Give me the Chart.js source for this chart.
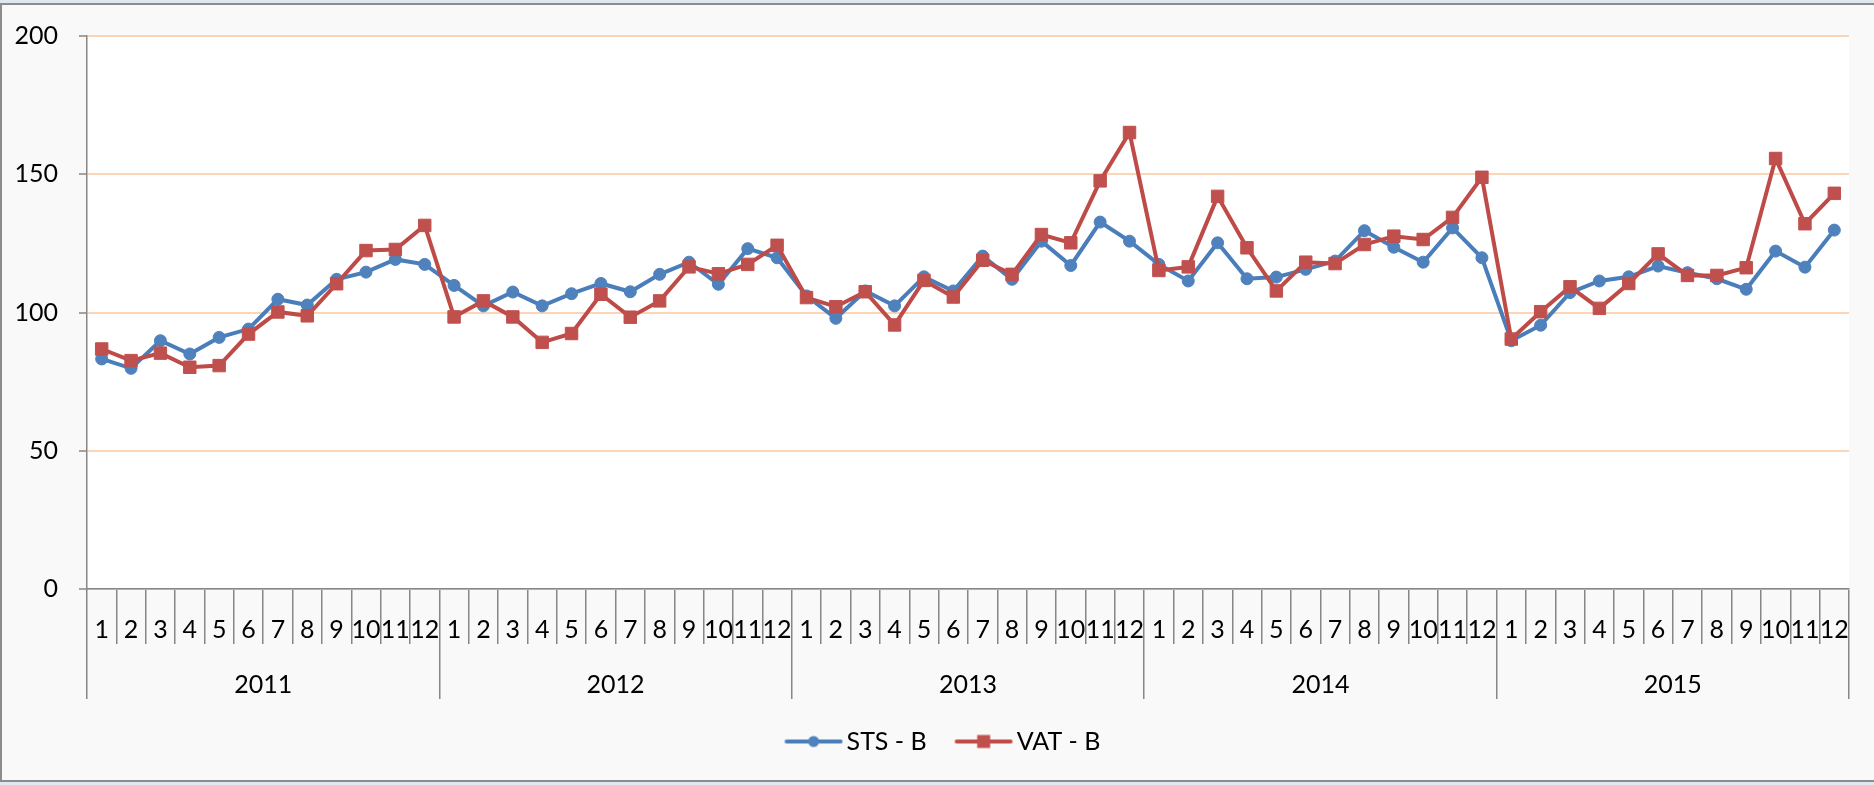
<!DOCTYPE html>
<html>
<head>
<meta charset="utf-8">
<script src="https://cdn.jsdelivr.net/npm/chart.js@4.4.0/dist/chart.umd.min.js"></script>
<style>
html,body{margin:0;padding:0;background:#dfe7ef;overflow:hidden;width:1874px;height:785px;}
#frame{position:absolute;left:0;top:3px;width:1900px;height:775px;background:#f9f9f9;border-top:2px solid #8c8c8c;border-left:2px solid #8c8c8c;border-bottom:2px solid #8c8c8c;}
#wrap{position:absolute;left:0;top:0;width:1874px;height:785px;}
</style>
</head>
<body>
<div id="frame"></div>
<div id="wrap"><canvas id="c" width="1874" height="785"></canvas></div>
<script>
// ---- data ----
const years = ['2011', '2012', '2013', '2014', '2015'];
const monthNames = ['1','2','3','4','5','6','7','8','9','10','11','12'];
const yTicks = [0, 50, 100, 150, 200];

const sts2011 = [83.2, 79.8, 89.8, 85.0, 91.0, 94.0, 104.8, 102.7, 112.0, 114.6, 119.2, 117.4];
const sts2012 = [109.8, 102.4, 107.4, 102.4, 106.8, 110.5, 107.5, 113.8, 118.2, 110.2, 123.1, 119.8];
const sts2013 = [106.0, 97.9, 107.8, 102.4, 112.9, 107.8, 120.4, 112.0, 125.8, 117.0, 132.7, 125.8];
const sts2014 = [117.4, 111.4, 125.2, 112.2, 112.8, 115.6, 118.6, 129.6, 123.6, 118.2, 130.6, 119.8];
const sts2015 = [89.8, 95.4, 107.2, 111.4, 112.9, 116.8, 114.4, 112.2, 108.4, 122.2, 116.4, 129.8];

const vat2011 = [86.8, 82.6, 85.3, 80.2, 80.8, 92.2, 100.2, 98.8, 110.4, 122.4, 122.8, 131.5];
const vat2012 = [98.4, 104.2, 98.4, 89.2, 92.4, 106.6, 98.3, 104.2, 116.5, 114.0, 117.4, 124.3];
const vat2013 = [105.4, 102.1, 107.5, 95.5, 111.6, 105.6, 118.9, 113.8, 128.2, 125.2, 147.6, 165.1];
const vat2014 = [115.2, 116.5, 142.0, 123.4, 107.8, 118.2, 117.7, 124.6, 127.6, 126.4, 134.4, 148.9];
const vat2015 = [90.4, 100.3, 109.3, 101.5, 110.5, 121.2, 113.4, 113.4, 116.2, 155.7, 132.1, 143.1];

const seriesNames = ['STS - B', 'VAT - B'];

const monthLabels = years.flatMap(() => monthNames);
const stsValues = [].concat(sts2011, sts2012, sts2013, sts2014, sts2015);
const vatValues = [].concat(vat2011, vat2012, vat2013, vat2014, vat2015);

// ---- styles ----
const FONT = 'Lato';
const FS = 25;
const AXIS = '#868686';
const GRID = '#fbd5b5';
const BLUE_L = '#4A7EBB', BLUE_M = '#4F81BD';
const RED_L = '#BE4B48', RED_M = '#C0504D';
const LINE_W = 4;

Chart.defaults.font.family = FONT;
Chart.defaults.font.size = FS;
Chart.defaults.color = '#000';

function legendImage(lineColor, markColor, shape) {
  const W = 86, H = 20, a = 27.25, len = 58;
  const cv = document.createElement('canvas');
  cv.width = W; cv.height = H;
  const g = cv.getContext('2d');
  g.strokeStyle = lineColor; g.lineWidth = LINE_W; g.lineCap = 'round';
  g.beginPath(); g.moveTo(a + 2, H / 2); g.lineTo(a + len - 2, H / 2); g.stroke();
  g.fillStyle = markColor;
  const cx = a + len / 2;
  if (shape === 'circle') { g.beginPath(); g.arc(cx, H / 2, 5.5, 0, Math.PI * 2); g.fill(); }
  else { g.fillRect(cx - 6.5, H / 2 - 6.5, 13, 13); }
  return cv;
}
const legSTS = legendImage(BLUE_L, BLUE_M, 'circle');
const legVAT = legendImage(RED_L, RED_M, 'rect');

const plotBg = {
  id: 'plotBg',
  beforeDraw(chart) {
    const {ctx, chartArea: a} = chart;
    ctx.save();
    ctx.fillStyle = '#ffffff';
    ctx.fillRect(a.left, a.top, a.right - a.left, a.bottom - a.top);
    ctx.restore();
  }
};

const legendShift = {
  id: 'legendShift',
  afterLayout(chart) {
    const lg = chart.legend;
    if (lg) { lg.left += 9; lg.right += 9; }
  }
};

new Chart(document.getElementById('c'), {
  type: 'line',
  data: {
    labels: monthLabels,
    datasets: [
      {
        label: seriesNames[0], data: stsValues, order: 2,
        borderColor: BLUE_L, borderWidth: LINE_W, tension: 0,
        pointStyle: 'circle', pointRadius: 6, pointBorderWidth: 1,
        pointBackgroundColor: BLUE_M, pointBorderColor: BLUE_M,
        xAxisID: 'x', yAxisID: 'y'
      },
      {
        label: seriesNames[1], data: vatValues, order: 1,
        borderColor: RED_L, borderWidth: LINE_W, tension: 0,
        pointStyle: 'rect', pointRadius: 8.8, pointBorderWidth: 1,
        pointBackgroundColor: RED_M, pointBorderColor: RED_M,
        xAxisID: 'x', yAxisID: 'y'
      }
    ]
  },
  options: {
    responsive: false,
    animation: false,
    events: [],
    layout: { padding: { top: 34, right: 25, left: 0, bottom: 21 } },
    plugins: {
      tooltip: { enabled: false },
      legend: {
        position: 'bottom',
        labels: {
          usePointStyle: true,
          pointStyleWidth: 67.5,
          padding: 10,
          color: '#000',
          font: { family: FONT, size: FS },
          generateLabels: () => [
            { text: seriesNames[0], pointStyle: legSTS, fillStyle: BLUE_M, strokeStyle: BLUE_M, lineWidth: 0, hidden: false, datasetIndex: 0, fontColor: '#000' },
            { text: seriesNames[1], pointStyle: legVAT, fillStyle: RED_M, strokeStyle: RED_M, lineWidth: 0, hidden: false, datasetIndex: 1, fontColor: '#000' }
          ]
        }
      }
    },
    scales: {
      x: {
        type: 'category',
        position: 'bottom',
        offset: true,
        grid: { offset: true, drawOnChartArea: false, color: AXIS, tickColor: AXIS, tickLength: 55, lineWidth: 1.5 },
        border: { display: true, color: AXIS, width: 1.5 },
        ticks: { autoSkip: false, maxRotation: 0, minRotation: 0, padding: -29, color: '#000', font: { family: FONT, size: FS } },
        afterFit: (s) => { s.height = 55; }
      },
      x2: {
        type: 'category',
        position: 'bottom',
        labels: years,
        offset: true,
        grid: { offset: true, drawOnChartArea: false, color: AXIS, tickColor: AXIS, tickLength: 55, lineWidth: 1.5 },
        border: { display: false },
        ticks: { autoSkip: false, maxRotation: 0, minRotation: 0, padding: -29, color: '#000', font: { family: FONT, size: FS } },
        afterFit: (s) => { s.height = 75; }
      },
      y: {
        type: 'linear',
        position: 'left',
        min: yTicks[0],
        max: yTicks[yTicks.length - 1],
        afterBuildTicks: (s) => { s.ticks = yTicks.map(v => ({ value: v })); },
        grid: { color: GRID, lineWidth: 2, tickColor: AXIS, tickLength: 8, tickWidth: 1.5 },
        border: { display: true, color: AXIS, width: 1.5 },
        ticks: { padding: 21, color: '#000', font: { family: FONT, size: FS } },
        afterFit: (s) => { s.width = 87; }
      }
    }
  },
  plugins: [plotBg, legendShift]
});
</script>
</body>
</html>
